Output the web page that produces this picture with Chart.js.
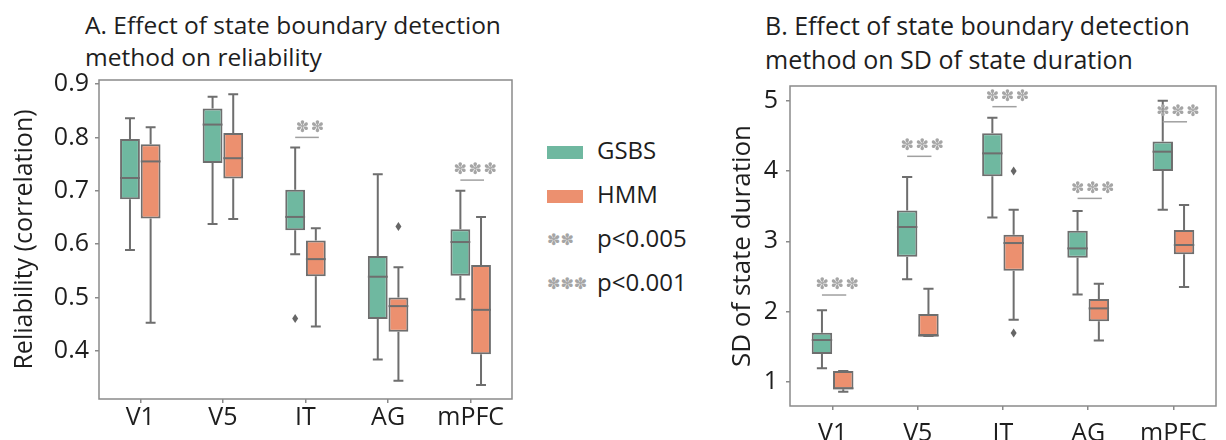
<!DOCTYPE html>
<html>
<head>
<meta charset="utf-8">
<script src="https://cdn.jsdelivr.net/npm/chart.js@4.4.1/dist/chart.umd.min.js"></script>
<style>
  body { margin: 0; width: 1226px; height: 440px; background: #fff; position: relative; overflow: hidden;
         font-family: 'Open Sans', sans-serif; color: #1e1e1e; }
  .wrap { position: absolute; top: 0; height: 440px; }
  .title { position: absolute; white-space: nowrap; }
  .lg-row { position: absolute; left: 547px; height: 30px; line-height: 30px; font-size: 24px; white-space: nowrap; }
  .lg-key { display: inline-block; width: 36px; height: 13px; vertical-align: middle; margin-right: 14px; }
  .lg-star { display: inline-block; width: 50px; font-family: 'DejaVu Sans'; font-size: 16px; color: #a5a5a5; letter-spacing: 0px; vertical-align: 2px; }
</style>
</head>
<body>
<div class="title" style="left:85px; top:9px; font-size:24.5px; line-height:32px;">A. Effect of state boundary detection<br>method on reliability</div>
<div class="title" style="left:765px; top:8px; font-size:25px; line-height:34px;">B. Effect of state boundary detection<br>method on SD of state duration</div>

<div class="wrap" style="left:0; width:530px;"><canvas id="relChart"></canvas></div>
<div class="wrap" style="left:700px; width:526px;"><canvas id="sdChart"></canvas></div>

<div class="lg-row" style="top:135px;"><span class="lg-key" style="background:#6fb8a0"></span>GSBS</div>
<div class="lg-row" style="top:179px;"><span class="lg-key" style="background:#ec906f"></span>HMM</div>
<div class="lg-row" style="top:223px;"><span class="lg-star">✽✽</span>p&lt;0.005</div>
<div class="lg-row" style="top:267px;"><span class="lg-star">✽✽✽</span>p&lt;0.001</div>

<script>
const regions = ['V1', 'V5', 'IT', 'AG', 'mPFC'];

// each box: [low whisker, q1, median, q3, high whisker]
const relGsbs = [[0.589, 0.684, 0.724, 0.797, 0.836], [0.638, 0.752, 0.824, 0.854, 0.876], [0.581, 0.626, 0.651, 0.702, 0.781], [0.384, 0.460, 0.539, 0.578, 0.731], [0.497, 0.541, 0.604, 0.628, 0.700]];
const relHmm = [[0.453, 0.648, 0.755, 0.787, 0.819], [0.647, 0.723, 0.761, 0.808, 0.881], [0.446, 0.540, 0.572, 0.607, 0.630], [0.344, 0.436, 0.484, 0.500, 0.557], [0.336, 0.394, 0.477, 0.561, 0.651]];
const relGsbsOut = [[], [], [0.461], [], []];
const relHmmOut = [[], [], [], [0.633], []];
const relSig = [0, 0, 2, 0, 3];           // number of stars
const relSigAt = [null, null, 0.80, null, 0.72];
const relTicks = [0.4, 0.5, 0.6, 0.7, 0.8, 0.9];

const sdGsbs = [[1.194, 1.398, 1.597, 1.700, 2.020], [2.460, 2.782, 3.204, 3.440, 3.915], [3.341, 3.924, 4.251, 4.536, 4.758], [2.246, 2.768, 2.900, 3.152, 3.431], [3.450, 4.000, 4.275, 4.420, 5.000]];
const sdHmm = [[0.862, 0.896, 0.910, 1.156, 1.156], [1.654, 1.654, 1.660, 1.967, 2.327], [1.886, 2.583, 2.976, 3.095, 3.450], [1.592, 1.863, 2.047, 2.180, 2.398], [2.350, 2.815, 2.948, 3.161, 3.517]];
const sdGsbsOut = [[], [], [], [], []];
const sdHmmOut = [[], [], [4.0, 1.697], [], []];
const sdSig = [3, 3, 3, 3, 3];
const sdSigAt = [2.237, 4.209, 4.915, 3.611, 4.700];
const sdTicks = [1, 2, 3, 4, 5];

const edge = '#6e6e6e';
const frameColor = '#8a8a8a';
Chart.defaults.font.family = "'Open Sans', sans-serif";
Chart.defaults.color = '#1e1e1e';

// whiskers, medians, outliers, significance marks and the frame
const boxPlugin = {
    id: 'boxExtras',
    beforeDatasetsDraw(chart) {
        const ctx = chart.ctx, y = chart.scales.y;
        ctx.save();
        ctx.strokeStyle = edge;
        ctx.lineWidth = 2;
        chart.data.datasets.forEach((ds, i) => {
            chart.getDatasetMeta(i).data.forEach((bar, j) => {
                const s = ds.stats[j];
                const {x, width} = bar.getProps(['x', 'width'], true);
                const cap = width / 4;
                ctx.beginPath();
                ctx.moveTo(x, y.getPixelForValue(s[4]));
                ctx.lineTo(x, y.getPixelForValue(s[3]));
                ctx.moveTo(x, y.getPixelForValue(s[1]));
                ctx.lineTo(x, y.getPixelForValue(s[0]));
                ctx.moveTo(x - cap, y.getPixelForValue(s[4]));
                ctx.lineTo(x + cap, y.getPixelForValue(s[4]));
                ctx.moveTo(x - cap, y.getPixelForValue(s[0]));
                ctx.lineTo(x + cap, y.getPixelForValue(s[0]));
                ctx.stroke();
            });
        });
        ctx.restore();
    },
    afterDatasetsDraw(chart, args, opts) {
        const ctx = chart.ctx, y = chart.scales.y, area = chart.chartArea;
        ctx.save();
        chart.data.datasets.forEach((ds, i) => {
            chart.getDatasetMeta(i).data.forEach((bar, j) => {
                const {x, width} = bar.getProps(['x', 'width'], true);
                const my = y.getPixelForValue(ds.stats[j][2]);
                ctx.strokeStyle = edge;
                ctx.lineWidth = 2;
                ctx.beginPath();
                ctx.moveTo(x - width / 2, my);
                ctx.lineTo(x + width / 2, my);
                ctx.stroke();
                ctx.fillStyle = '#666';
                ds.outliers[j].forEach(v => {
                    const oy = y.getPixelForValue(v);
                    ctx.beginPath();
                    ctx.moveTo(x, oy - 4.5);
                    ctx.lineTo(x + 3, oy);
                    ctx.lineTo(x, oy + 4.5);
                    ctx.lineTo(x - 3, oy);
                    ctx.closePath();
                    ctx.fill();
                });
            });
        });

        // significance
        const m0 = chart.getDatasetMeta(0).data, m1 = chart.getDatasetMeta(1).data;
        opts.sig.forEach((n, j) => {
            if (!n) return;
            const x1 = m0[j].x, x2 = m1[j].x + 3;
            const ly = y.getPixelForValue(opts.sigAt[j]);
            ctx.strokeStyle = '#a0a0a0';
            ctx.lineWidth = 1.5;
            ctx.beginPath();
            ctx.moveTo(x1, ly);
            ctx.lineTo(x2, ly);
            ctx.stroke();
            ctx.fillStyle = '#a5a5a5';
            ctx.font = "16px 'DejaVu Sans'";
            ctx.textAlign = 'center';
            ctx.textBaseline = 'middle';
            const cx = (x1 + x2) / 2 + 3;
            for (let k = 0; k < n; k++) {
                ctx.fillText('✽', cx + (k - (n - 1) / 2) * 15, ly - 10);
            }
        });

        ctx.strokeStyle = frameColor;
        ctx.lineWidth = 1.5;
        ctx.strokeRect(area.left, area.top, area.right - area.left, area.bottom - area.top);
        ctx.restore();
    }
};

function boxChart(id, opt) {
    const ctx = document.getElementById(id).getContext('2d');
    const series = [
        {label: 'GSBS', stats: opt.gsbs, outliers: opt.gsbsOut, color: '#6fb8a0'},
        {label: 'HMM', stats: opt.hmm, outliers: opt.hmmOut, color: '#ec906f'}
    ];
    return new Chart(ctx, {
        type: 'bar',
        data: {
            labels: regions,
            datasets: series.map(s => ({
                label: s.label,
                data: s.stats.map(b => [b[1], b[3]]),
                stats: s.stats,
                outliers: s.outliers,
                backgroundColor: s.color,
                borderColor: edge,
                borderWidth: 2,
                borderSkipped: false,
                categoryPercentage: 0.5,
                barPercentage: 0.96
            }))
        },
        options: {
            responsive: true,
            maintainAspectRatio: false,
            animation: false,
            layout: {padding: opt.padding},
            plugins: {
                legend: {display: false},
                tooltip: {enabled: false},
                boxExtras: {sig: opt.sig, sigAt: opt.sigAt}
            },
            scales: {
                x: {
                    grid: {drawOnChartArea: false, offset: false, tickLength: 4, tickColor: frameColor, lineWidth: 1.5},
                    border: {display: false},
                    ticks: {font: {size: 25}, padding: opt.xPad},
                    afterFit(s) { s.height = opt.xHeight; }
                },
                y: {
                    min: opt.min,
                    max: opt.max,
                    afterBuildTicks(s) { s.ticks = opt.ticks.map(v => ({value: v})); },
                    grid: {drawOnChartArea: false, tickLength: 4, tickColor: frameColor, lineWidth: 1.5},
                    border: {display: false},
                    ticks: {font: {size: opt.yTickSize}, padding: opt.yPad, callback: opt.fmt},
                    title: {display: true, text: opt.yTitle, font: {size: opt.yTitleSize}, padding: {top: opt.yTitlePad, bottom: 0}},
                    afterFit(s) { s.width = opt.yWidth; }
                }
            }
        },
        plugins: [boxPlugin]
    });
}

boxChart('relChart', {
    gsbs: relGsbs, hmm: relHmm, gsbsOut: relGsbsOut, hmmOut: relHmmOut,
    sig: relSig, sigAt: relSigAt, ticks: relTicks,
    min: 0.31, max: 0.9075, fmt: v => v.toFixed(1),
    yTitle: 'Reliability (correlation)', yTitleSize: 25, yTitlePad: 10,
    yTickSize: 25, yPad: 6, yWidth: 99, xPad: 0, xHeight: 41,
    padding: {top: 80, right: 18, bottom: 0, left: 0}
});

boxChart('sdChart', {
    gsbs: sdGsbs, hmm: sdHmm, gsbsOut: sdGsbsOut, hmmOut: sdHmmOut,
    sig: sdSig, sigAt: sdSigAt, ticks: sdTicks,
    min: 0.659, max: 5.209, fmt: v => v.toString(),
    yTitle: 'SD of state duration', yTitleSize: 26, yTitlePad: 27,
    yTickSize: 25, yPad: 8, yWidth: 90, xPad: 9, xHeight: 34,
    padding: {top: 86, right: 10, bottom: 0, left: 0}
});
</script>
</body>
</html>
